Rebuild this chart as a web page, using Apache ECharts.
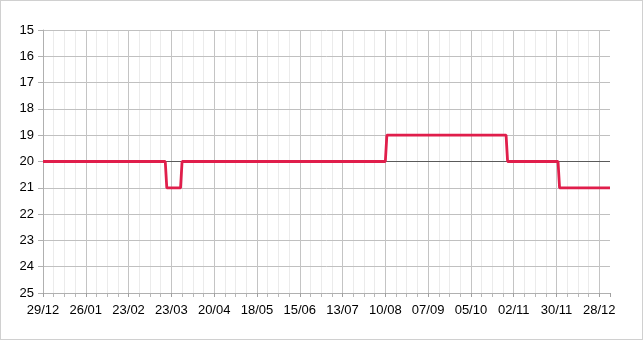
<!DOCTYPE html>
<html>
<head>
<meta charset="utf-8">
<script src="https://cdn.jsdelivr.net/npm/echarts@6/dist/echarts.min.js"></script>
<style>
html,body{margin:0;padding:0;background:#fff;}
#wrap{width:643px;height:340px;box-sizing:border-box;border:1px solid #d0d0d0;position:relative;}
#chart{position:absolute;left:-1px;top:-1px;width:643px;height:340px;}
</style>
</head>
<body>
<div id="wrap"><div id="chart"></div></div>
<script>
// Start of the axis (Monday 29/12/2014); axis spans 53 weeks
const startDate = '2014-12-29';
const axisDays = 371;
// Tick labels every 4 weeks
const xTickLabels = ['29/12','26/01','23/02','23/03','20/04','18/05','15/06','13/07','10/08','07/09','05/10','02/11','30/11','28/12'];
// Change points of the series (date, value)
const pointDates = ['2014-12-29','2015-03-19','2015-03-20','2015-03-29','2015-03-30','2015-08-10','2015-08-11','2015-10-28','2015-10-29','2015-12-01','2015-12-02','2016-01-04'];
const pointValues = [20,20,21,21,20,20,19,19,20,20,21,21];
// Reference level drawn as a darker horizontal line
const referenceLevel = 20;

const DAY = 86400000;
const t0 = Date.parse(startDate + 'T00:00:00Z');
function dayIndex(d){ return Math.round((Date.parse(d + 'T00:00:00Z') - t0) / DAY); }
const seriesData = pointDates.map((d,i)=>[dayIndex(d), pointValues[i]]);

const FONT = 'Liberation Sans, Arial, sans-serif';
const chart = echarts.init(document.getElementById('chart'), null, {renderer:'canvas'});
chart.setOption({
  animation:false,
  backgroundColor:'transparent',
  grid:{left:43, top:30, right:33, bottom:47, containLabel:false},
  xAxis:[
    {
      type:'value', position:'bottom', min:0, max:axisDays, interval:7, z:0,
      axisLine:{show:false},
      axisTick:{show:true, length:4, lineStyle:{color:'#b8b8b8', type:'solid'}},
      axisLabel:{show:false},
      splitLine:{show:true, showMaxLine:false, lineStyle:{color:'#ebebeb', width:1, type:'solid'}}
    },
    {
      type:'value', position:'bottom', min:0, max:axisDays, interval:28, z:1,
      axisLine:{show:true, lineStyle:{color:'#b0b0b0', width:1, type:'solid'}},
      axisTick:{show:true, length:4, lineStyle:{color:'#a0a0a0', type:'solid'}},
      axisLabel:{show:true, margin:11, fontSize:13, color:'#000', fontFamily:FONT,
        formatter:function(v){ return (v % 28 === 0 && xTickLabels[v/28]) ? xTickLabels[v/28] : ''; }},
      splitLine:{show:true, showMaxLine:false, lineStyle:{color:'#c4c4c4', width:1, type:'solid'}}
    }
  ],
  yAxis:{
    type:'value', inverse:true, min:15, max:25, interval:1, z:1,
    axisLine:{show:true, lineStyle:{color:'#b0b0b0', type:'solid'}},
    axisTick:{show:true, length:5, lineStyle:{color:'#b0b0b0', type:'solid'}},
    axisLabel:{margin:9, fontSize:13, color:'#000', fontFamily:FONT},
    splitLine:{show:true, lineStyle:{color:'#c0c0c0', width:1, type:'solid'}}
  },
  series:[
    {
      type:'line', xAxisIndex:1, data:[[0,referenceLevel],[axisDays,referenceLevel]], symbol:'none',
      lineStyle:{color:'#5a5a5a', width:1, type:'solid'}, silent:true, z:2
    },
    {
      type:'line', xAxisIndex:1, data:seriesData, showSymbol:false, symbol:'none',
      lineStyle:{color:'#e01e4b', width:2.8, type:'solid'}, silent:true, z:3
    }
  ]
});
</script>
</body>
</html>
